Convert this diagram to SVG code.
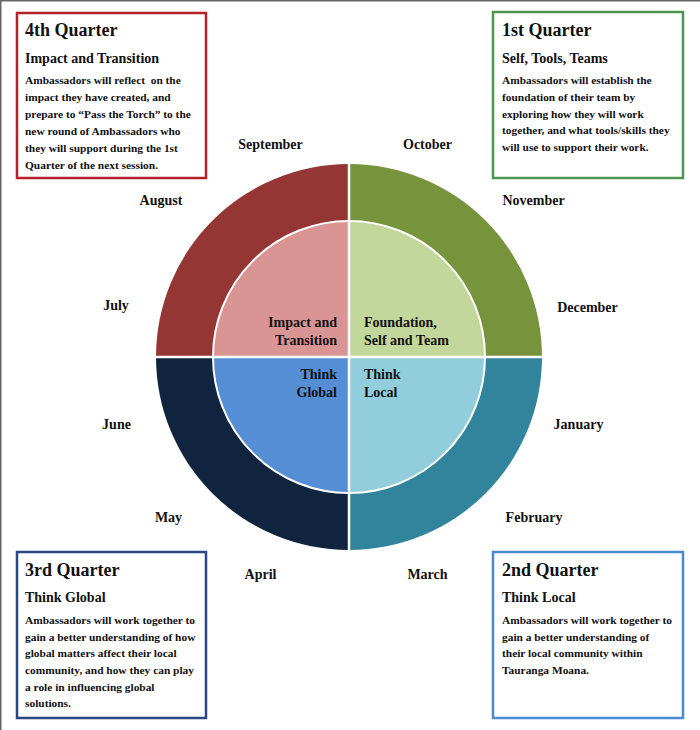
<svg xmlns="http://www.w3.org/2000/svg" width="700" height="730" viewBox="0 0 700 730">
<style>
text{font-family:"Liberation Serif","Times New Roman",serif;font-weight:bold;fill:#111}
.t{font-size:18px}
.s{font-size:14px}
.b{font-size:11.4px}
.m{font-size:14px;text-anchor:middle}
.c{font-size:14px}
.r{text-anchor:end}
.box{fill:#fff;stroke-width:2.5}
</style>
<rect width="700" height="730" fill="#fff"/>
<path d="M0.75,730 V0.75 H700" fill="none" stroke="#666" stroke-width="1.5"/>
<g id="wheel">
<g id="outer">
<path d="M349,357 L156,357 A193,193 0 0 1 349,164 Z" fill="#943634"/>
<path d="M349,357 L349,164 A193,193 0 0 1 542,357 Z" fill="#77933C"/>
<path d="M349,357 L542,357 A193,193 0 0 1 349,550 Z" fill="#31849B"/>
<path d="M349,357 L349,550 A193,193 0 0 1 156,357 Z" fill="#10243F"/>
</g>
<g id="inner">
<path d="M349,357 L213,357 A136,136 0 0 1 349,221 Z" fill="#D99594"/>
<path d="M349,357 L349,221 A136,136 0 0 1 485,357 Z" fill="#C3D69B"/>
<path d="M349,357 L485,357 A136,136 0 0 1 349,493 Z" fill="#92CDDC"/>
<path d="M349,357 L349,493 A136,136 0 0 1 213,357 Z" fill="#558ED5"/>
<circle cx="349" cy="357" r="136" fill="none" stroke="#fff" stroke-width="2"/>
</g>
<path d="M349,162 V552 M154,357 H544" stroke="#fff" stroke-width="2.5"/>
<g id="centre-labels">
<text class="c r" x="337" y="327">Impact and</text>
<text class="c r" x="337" y="345">Transition</text>
<text class="c" x="364" y="327">Foundation,</text>
<text class="c" x="364" y="345">Self and Team</text>
<text class="c r" x="337" y="379">Think</text>
<text class="c r" x="337" y="397">Global</text>
<text class="c" x="364" y="379">Think</text>
<text class="c" x="364" y="397">Local</text>
</g>
</g>
<g id="months">
<text class="m" x="270.5" y="149">September</text>
<text class="m" x="427.5" y="149">October</text>
<text class="m" x="161" y="205">August</text>
<text class="m" x="533.5" y="205">November</text>
<text class="m" x="116" y="310">July</text>
<text class="m" x="587.5" y="312">December</text>
<text class="m" x="116.5" y="429">June</text>
<text class="m" x="578.5" y="429">January</text>
<text class="m" x="168.5" y="522">May</text>
<text class="m" x="534" y="522">February</text>
<text class="m" x="260.5" y="579">April</text>
<text class="m" x="427.5" y="579">March</text>
</g>
<g id="q4">
<rect class="box" x="17" y="13" width="189" height="165" stroke="#B5202A"/>
<text class="t" x="25" y="36">4th Quarter</text>
<text class="s" x="25" y="63">Impact and Transition</text>
<text class="b" x="25" y="84" xml:space="preserve">Ambassadors will reflect  on the</text>
<text class="b" x="25" y="101">impact they have created, and</text>
<text class="b" x="25" y="118">prepare to “Pass the Torch” to the</text>
<text class="b" x="25" y="135">new round of Ambassadors who</text>
<text class="b" x="25" y="152">they will support during the 1st</text>
<text class="b" x="25" y="169">Quarter of the next session.</text>
</g>
<g id="q1">
<rect class="box" x="493" y="12" width="190" height="166" stroke="#4E9650"/>
<text class="t" x="502" y="36">1st Quarter</text>
<text class="s" x="502" y="63">Self, Tools, Teams</text>
<text class="b" x="502" y="84">Ambassadors will establish the</text>
<text class="b" x="502" y="101">foundation of their team by</text>
<text class="b" x="502" y="118">exploring how they will work</text>
<text class="b" x="502" y="134">together, and what tools/skills they</text>
<text class="b" x="502" y="151">will use to support their work.</text>
</g>
<g id="q3">
<rect class="box" x="17" y="552" width="189" height="166" stroke="#2A4784"/>
<text class="t" x="25" y="576">3rd Quarter</text>
<text class="s" x="25" y="602">Think Global</text>
<text class="b" x="25" y="624">Ambassadors will work together to</text>
<text class="b" x="25" y="641">gain a better understanding of how</text>
<text class="b" x="25" y="657">global matters affect their local</text>
<text class="b" x="25" y="674">community, and how they can play</text>
<text class="b" x="25" y="691">a role in influencing global</text>
<text class="b" x="25" y="707">solutions.</text>
</g>
<g id="q2">
<rect class="box" x="493" y="552" width="190" height="166" stroke="#4A8AD2"/>
<text class="t" x="502" y="576">2nd Quarter</text>
<text class="s" x="502" y="602">Think Local</text>
<text class="b" x="502" y="624">Ambassadors will work together to</text>
<text class="b" x="502" y="641">gain a better understanding of</text>
<text class="b" x="502" y="657">their local community within</text>
<text class="b" x="502" y="674">Tauranga Moana.</text>
</g>
</svg>
